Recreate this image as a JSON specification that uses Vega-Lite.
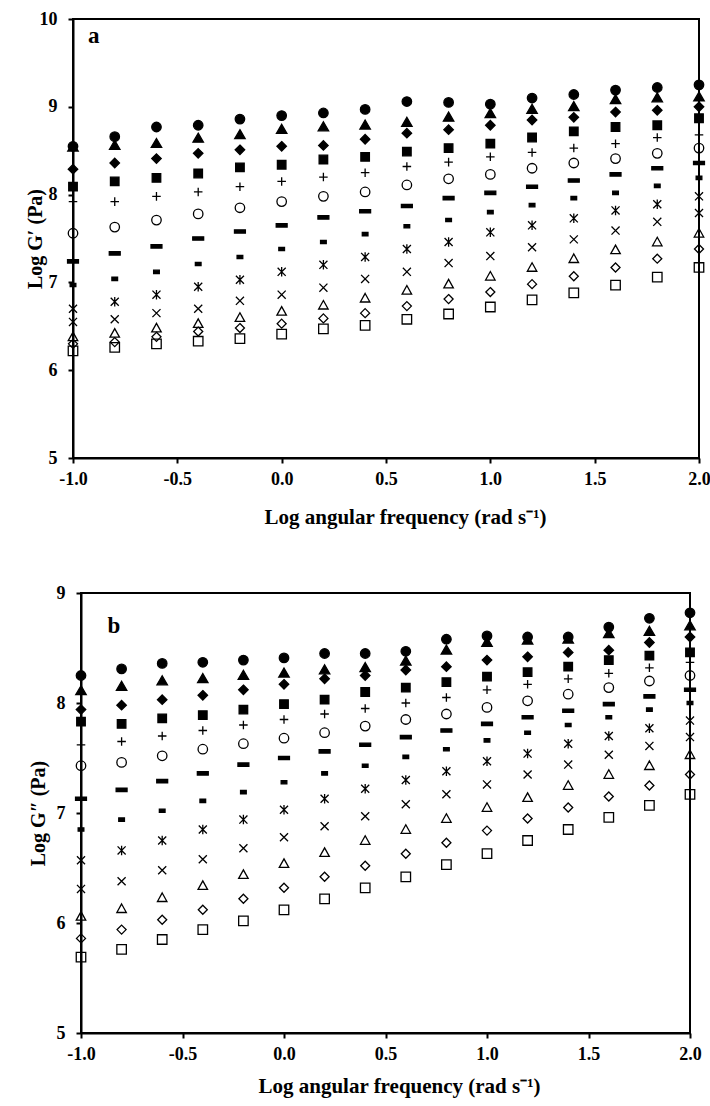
{
  "$schema": "https://vega.github.io/schema/vega-lite/v6.json",
  "padding": {"left": 24, "top": 9, "right": 0, "bottom": 5},
  "bounds": "flush",
  "spacing": 135,
  "config": {
    "font": "Liberation Serif",
    "view": {"stroke": "black", "strokeWidth": 2},
    "axis": {
      "domainColor": "black", "domainWidth": 2, "tickColor": "black", "tickWidth": 2, "tickSize": 5,
      "grid": false, "labelFont": "Liberation Serif", "labelFontWeight": "bold", "labelFontSize": 18,
      "labelColor": "black", "titleFont": "Liberation Serif", "titleFontWeight": "bold", "titleFontSize": 20,
      "titleColor": "black", "labelFlush": false, "labelOverlap": false
    }
  },
  "datasets": {
    "a": [
      {"f": -1.0, "fc": 8.55, "ft": 8.54, "fd": 8.29, "fs": 8.09, "plus": 7.92, "oc": 7.56, "ld": 7.24, "sd": 6.97, "ast": 6.70, "cr": 6.55, "ot": 6.38, "od": 6.30, "os": 6.22},
      {"f": -0.8, "fc": 8.66, "ft": 8.56, "fd": 8.36, "fs": 8.15, "plus": 7.92, "oc": 7.63, "ld": 7.33, "sd": 7.04, "ast": 6.78, "cr": 6.58, "ot": 6.42, "od": 6.32, "os": 6.26},
      {"f": -0.6, "fc": 8.77, "ft": 8.58, "fd": 8.41, "fs": 8.19, "plus": 7.98, "oc": 7.71, "ld": 7.41, "sd": 7.12, "ast": 6.86, "cr": 6.65, "ot": 6.48, "od": 6.38, "os": 6.30},
      {"f": -0.4, "fc": 8.79, "ft": 8.64, "fd": 8.47, "fs": 8.24, "plus": 8.03, "oc": 7.78, "ld": 7.50, "sd": 7.21, "ast": 6.95, "cr": 6.70, "ot": 6.53, "od": 6.44, "os": 6.33},
      {"f": -0.2, "fc": 8.86, "ft": 8.68, "fd": 8.51, "fs": 8.31, "plus": 8.09, "oc": 7.85, "ld": 7.58, "sd": 7.29, "ast": 7.03, "cr": 6.79, "ot": 6.60, "od": 6.48, "os": 6.36},
      {"f": 0.0, "fc": 8.90, "ft": 8.74, "fd": 8.55, "fs": 8.34, "plus": 8.15, "oc": 7.92, "ld": 7.65, "sd": 7.38, "ast": 7.12, "cr": 6.86, "ot": 6.67, "od": 6.53, "os": 6.41},
      {"f": 0.2, "fc": 8.93, "ft": 8.77, "fd": 8.56, "fs": 8.40, "plus": 8.20, "oc": 7.98, "ld": 7.74, "sd": 7.46, "ast": 7.20, "cr": 6.94, "ot": 6.74, "od": 6.59, "os": 6.47},
      {"f": 0.4, "fc": 8.97, "ft": 8.79, "fd": 8.63, "fs": 8.43, "plus": 8.25, "oc": 8.03, "ld": 7.81, "sd": 7.55, "ast": 7.29, "cr": 7.04, "ot": 6.82, "od": 6.65, "os": 6.51},
      {"f": 0.6, "fc": 9.06, "ft": 8.82, "fd": 8.70, "fs": 8.49, "plus": 8.32, "oc": 8.11, "ld": 7.87, "sd": 7.64, "ast": 7.38, "cr": 7.12, "ot": 6.91, "od": 6.73, "os": 6.58},
      {"f": 0.8, "fc": 9.05, "ft": 8.88, "fd": 8.74, "fs": 8.53, "plus": 8.37, "oc": 8.18, "ld": 7.96, "sd": 7.71, "ast": 7.46, "cr": 7.22, "ot": 6.98, "od": 6.81, "os": 6.64},
      {"f": 1.0, "fc": 9.03, "ft": 8.92, "fd": 8.79, "fs": 8.58, "plus": 8.43, "oc": 8.23, "ld": 8.02, "sd": 7.80, "ast": 7.57, "cr": 7.30, "ot": 7.07, "od": 6.89, "os": 6.72},
      {"f": 1.2, "fc": 9.10, "ft": 8.97, "fd": 8.85, "fs": 8.65, "plus": 8.48, "oc": 8.30, "ld": 8.09, "sd": 7.88, "ast": 7.65, "cr": 7.40, "ot": 7.17, "od": 6.98, "os": 6.80},
      {"f": 1.4, "fc": 9.14, "ft": 9.00, "fd": 8.88, "fs": 8.72, "plus": 8.53, "oc": 8.36, "ld": 8.16, "sd": 7.96, "ast": 7.73, "cr": 7.49, "ot": 7.27, "od": 7.07, "os": 6.88},
      {"f": 1.6, "fc": 9.19, "ft": 9.08, "fd": 8.94, "fs": 8.77, "plus": 8.58, "oc": 8.41, "ld": 8.23, "sd": 8.02, "ast": 7.82, "cr": 7.59, "ot": 7.37, "od": 7.17, "os": 6.97},
      {"f": 1.8, "fc": 9.22, "ft": 9.10, "fd": 8.96, "fs": 8.79, "plus": 8.65, "oc": 8.47, "ld": 8.30, "sd": 8.10, "ast": 7.89, "cr": 7.69, "ot": 7.46, "od": 7.27, "os": 7.06},
      {"f": 2.0, "fc": 9.25, "ft": 9.11, "fd": 9.00, "fs": 8.87, "plus": 8.68, "oc": 8.53, "ld": 8.36, "sd": 8.19, "ast": 7.98, "cr": 7.79, "ot": 7.56, "od": 7.38, "os": 7.17}
    ],
    "b": [
      {"f": -1.0, "fc": 8.25, "ft": 8.11, "fd": 7.94, "fs": 7.83, "plus": 7.62, "oc": 7.43, "ld": 7.13, "sd": 6.85, "ast": 6.57, "cr": 6.31, "ot": 6.06, "od": 5.86, "os": 5.69},
      {"f": -0.8, "fc": 8.31, "ft": 8.15, "fd": 7.98, "fs": 7.81, "plus": 7.65, "oc": 7.46, "ld": 7.21, "sd": 6.94, "ast": 6.66, "cr": 6.38, "ot": 6.13, "od": 5.94, "os": 5.76},
      {"f": -0.6, "fc": 8.36, "ft": 8.20, "fd": 8.03, "fs": 7.86, "plus": 7.70, "oc": 7.52, "ld": 7.29, "sd": 7.02, "ast": 6.75, "cr": 6.48, "ot": 6.23, "od": 6.03, "os": 5.85},
      {"f": -0.4, "fc": 8.37, "ft": 8.22, "fd": 8.07, "fs": 7.89, "plus": 7.75, "oc": 7.58, "ld": 7.36, "sd": 7.11, "ast": 6.85, "cr": 6.58, "ot": 6.34, "od": 6.12, "os": 5.94},
      {"f": -0.2, "fc": 8.39, "ft": 8.25, "fd": 8.12, "fs": 7.94, "plus": 7.80, "oc": 7.63, "ld": 7.44, "sd": 7.19, "ast": 6.94, "cr": 6.68, "ot": 6.44, "od": 6.22, "os": 6.02},
      {"f": 0.0, "fc": 8.41, "ft": 8.27, "fd": 8.17, "fs": 7.99, "plus": 7.85, "oc": 7.68, "ld": 7.50, "sd": 7.28, "ast": 7.03, "cr": 6.78, "ot": 6.54, "od": 6.32, "os": 6.12},
      {"f": 0.2, "fc": 8.45, "ft": 8.30, "fd": 8.22, "fs": 8.03, "plus": 7.90, "oc": 7.73, "ld": 7.56, "sd": 7.36, "ast": 7.13, "cr": 6.88, "ot": 6.64, "od": 6.42, "os": 6.22},
      {"f": 0.4, "fc": 8.45, "ft": 8.32, "fd": 8.25, "fs": 8.10, "plus": 7.95, "oc": 7.79, "ld": 7.62, "sd": 7.43, "ast": 7.22, "cr": 6.97, "ot": 6.75, "od": 6.52, "os": 6.32},
      {"f": 0.6, "fc": 8.47, "ft": 8.38, "fd": 8.30, "fs": 8.14, "plus": 8.00, "oc": 7.85, "ld": 7.69, "sd": 7.51, "ast": 7.30, "cr": 7.08, "ot": 6.85, "od": 6.63, "os": 6.42},
      {"f": 0.8, "fc": 8.58, "ft": 8.48, "fd": 8.33, "fs": 8.19, "plus": 8.05, "oc": 7.90, "ld": 7.75, "sd": 7.58, "ast": 7.38, "cr": 7.17, "ot": 6.95, "od": 6.73, "os": 6.53},
      {"f": 1.0, "fc": 8.61, "ft": 8.55, "fd": 8.39, "fs": 8.24, "plus": 8.12, "oc": 7.96, "ld": 7.81, "sd": 7.66, "ast": 7.47, "cr": 7.26, "ot": 7.05, "od": 6.84, "os": 6.63},
      {"f": 1.2, "fc": 8.60, "ft": 8.57, "fd": 8.42, "fs": 8.28, "plus": 8.17, "oc": 8.02, "ld": 7.87, "sd": 7.73, "ast": 7.54, "cr": 7.35, "ot": 7.14, "od": 6.95, "os": 6.75},
      {"f": 1.4, "fc": 8.60, "ft": 8.58, "fd": 8.46, "fs": 8.33, "plus": 8.22, "oc": 8.08, "ld": 7.93, "sd": 7.80, "ast": 7.63, "cr": 7.44, "ot": 7.25, "od": 7.05, "os": 6.85},
      {"f": 1.6, "fc": 8.69, "ft": 8.63, "fd": 8.48, "fs": 8.39, "plus": 8.27, "oc": 8.14, "ld": 7.99, "sd": 7.87, "ast": 7.70, "cr": 7.53, "ot": 7.35, "od": 7.15, "os": 6.96},
      {"f": 1.8, "fc": 8.77, "ft": 8.65, "fd": 8.55, "fs": 8.43, "plus": 8.32, "oc": 8.20, "ld": 8.06, "sd": 7.94, "ast": 7.77, "cr": 7.61, "ot": 7.43, "od": 7.25, "os": 7.07},
      {"f": 2.0, "fc": 8.82, "ft": 8.70, "fd": 8.60, "fs": 8.46, "plus": 8.37, "oc": 8.25, "ld": 8.12, "sd": 8.00, "ast": 7.84, "cr": 7.69, "ot": 7.53, "od": 7.35, "os": 7.17}
    ]
  },
  "vconcat": [
    {
      "width": 626,
      "height": 439,
      "layer": [
        {
          "data": {"name": "a"},
          "transform": [{"fold": ["fc", "ft", "fd", "fs", "plus", "oc", "ld", "sd", "ast", "cr", "ot", "od", "os"], "as": ["series", "value"]}],
          "mark": {"type": "point", "filled": true, "size": 90, "stroke": "black", "strokeWidth": 1.3, "opacity": 1},
          "encoding": {
            "x": {"field": "f", "type": "quantitative", "scale": {"domain": [-1, 2], "nice": false, "zero": false},
              "axis": {"values": [-1, -0.5, 0, 0.5, 1, 1.5, 2], "labelExpr": "replace(format(datum.value, '.1f'), '−', '-')", "labelPadding": 7, "title": "Log angular frequency (rad s⁻¹)", "titlePadding": 18, "titleX": 332, "titleFontSize": 21}},
            "y": {"field": "value", "type": "quantitative", "scale": {"domain": [5, 10], "nice": false, "zero": false},
              "axis": {"values": [5, 6, 7, 8, 9, 10], "format": "d", "labelPadding": 11, "title": "Log G′ (Pa)", "titleX": -28}},
            "shape": {"field": "series", "type": "nominal", "legend": null,
              "scale": {"domain": ["fc", "ft", "fd", "fs", "plus", "oc", "ld", "sd", "ast", "cr", "ot", "od", "os"],
                "range": ["circle", "M0,-1.1L1.1,0.8L-1.1,0.8Z", "M0,-1L1,0L0,1L-1,0Z", "M-0.9,-0.9H0.9V0.9H-0.9Z", "M-0.9,0H0.9M0,-0.9V0.9", "M-1,0A1,1,0,1,1,1,0A1,1,0,1,1,-1,0Z", "M-1.15,-0.35H1.15V0.35H-1.15Z", "M-0.6,-0.35H0.6V0.35H-0.6Z", "M-0.85,-0.85L0.85,0.85M-0.85,0.85L0.85,-0.85M0,-1V1", "M-0.85,-0.85L0.85,0.85M-0.85,0.85L0.85,-0.85", "M0,-1L1,0.8L-1,0.8Z", "M0,-0.95L0.95,0L0,0.95L-0.95,0Z", "M-1,-1H1V1H-1Z"]}},
            "fill": {"field": "series", "type": "nominal", "legend": null,
              "scale": {"domain": ["fc", "ft", "fd", "fs", "plus", "oc", "ld", "sd", "ast", "cr", "ot", "od", "os"],
                "range": ["black", "black", "black", "black", "transparent", "transparent", "black", "black", "transparent", "transparent", "transparent", "transparent", "transparent"]}}
          }
        },
        {
          "data": {"values": [{}]},
          "mark": {"type": "text", "text": "a", "font": "Liberation Serif", "fontWeight": "bold", "fontSize": 23, "align": "left", "baseline": "alphabetic", "color": "black"},
          "encoding": {"x": {"datum": -0.928}, "y": {"datum": 9.73}}
        }
      ]
    },
    {
      "bounds": "flush",
      "spacing": 0,
      "hconcat": [
        {
          "width": 8,
          "height": 440,
          "view": {"stroke": null},
          "data": {"values": [{}]},
          "mark": {"type": "point", "opacity": 0}
        },
        {
          "width": 609,
          "height": 440,
          "layer": [
            {
              "data": {"name": "b"},
              "transform": [{"fold": ["fc", "ft", "fd", "fs", "plus", "oc", "ld", "sd", "ast", "cr", "ot", "od", "os"], "as": ["series", "value"]}],
              "mark": {"type": "point", "filled": true, "size": 90, "stroke": "black", "strokeWidth": 1.3, "opacity": 1},
              "encoding": {
                "x": {"field": "f", "type": "quantitative", "scale": {"domain": [-1, 2], "nice": false, "zero": false},
                  "axis": {"values": [-1, -0.5, 0, 0.5, 1, 1.5, 2], "labelExpr": "replace(format(datum.value, '.1f'), '−', '-')", "labelPadding": 7, "title": "Log angular frequency (rad s⁻¹)", "titlePadding": 12, "titleX": 318, "titleFontSize": 21}},
                "y": {"field": "value", "type": "quantitative", "scale": {"domain": [5, 9], "nice": false, "zero": false},
                  "axis": {"values": [5, 6, 7, 8, 9], "format": "d", "labelPadding": 11, "title": "Log G″ (Pa)", "titleX": -33}},
                "shape": {"field": "series", "type": "nominal", "legend": null,
                  "scale": {"domain": ["fc", "ft", "fd", "fs", "plus", "oc", "ld", "sd", "ast", "cr", "ot", "od", "os"],
                    "range": ["circle", "M0,-1.1L1.1,0.8L-1.1,0.8Z", "M0,-1L1,0L0,1L-1,0Z", "M-0.9,-0.9H0.9V0.9H-0.9Z", "M-0.9,0H0.9M0,-0.9V0.9", "M-1,0A1,1,0,1,1,1,0A1,1,0,1,1,-1,0Z", "M-1.15,-0.35H1.15V0.35H-1.15Z", "M-0.6,-0.35H0.6V0.35H-0.6Z", "M-0.85,-0.85L0.85,0.85M-0.85,0.85L0.85,-0.85M0,-1V1", "M-0.85,-0.85L0.85,0.85M-0.85,0.85L0.85,-0.85", "M0,-1L1,0.8L-1,0.8Z", "M0,-0.95L0.95,0L0,0.95L-0.95,0Z", "M-1,-1H1V1H-1Z"]}},
                "fill": {"field": "series", "type": "nominal", "legend": null,
                  "scale": {"domain": ["fc", "ft", "fd", "fs", "plus", "oc", "ld", "sd", "ast", "cr", "ot", "od", "os"],
                    "range": ["black", "black", "black", "black", "transparent", "transparent", "black", "black", "transparent", "transparent", "transparent", "transparent", "transparent"]}}
              }
            },
            {
              "data": {"values": [{}]},
              "mark": {"type": "text", "text": "b", "font": "Liberation Serif", "fontWeight": "bold", "fontSize": 23, "align": "left", "baseline": "alphabetic", "color": "black"},
              "encoding": {"x": {"datum": -0.87}, "y": {"datum": 8.64}}
            }
          ]
        }
      ]
    }
  ]
}
